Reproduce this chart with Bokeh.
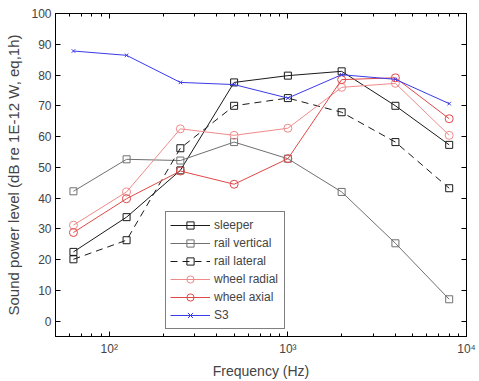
from bokeh.plotting import figure
from bokeh.models import LinearAxis, LogAxis, FixedTicker, LogTicker, Legend, LegendItem, CustomJSTickFormatter
from bokeh.embed import file_html
from bokeh.resources import INLINE

freq = [63, 125, 250, 500, 1000, 2000, 4000, 8000]
sleeper = [22.5, 33.8, 49.0, 77.6, 79.8, 81.2, 70.0, 57.3]
rail_vertical = [42.2, 52.6, 52.2, 58.2, 52.8, 42.0, 25.3, 7.1]
rail_lateral = [20.1, 26.3, 56.2, 70.0, 72.5, 67.9, 58.2, 43.2]
wheel_radial = [31.2, 42.0, 62.5, 60.4, 62.7, 76.0, 77.3, 60.4]
wheel_axial = [28.8, 39.8, 48.8, 44.5, 52.8, 78.5, 79.1, 65.8]
s3 = [87.8, 86.4, 77.6, 76.9, 72.5, 80.1, 78.6, 70.7]

y_ticks = [0, 10, 20, 30, 40, 50, 60, 70, 80, 90, 100]
x_tick_labels = {100: "10\u00b2", 1000: "10\u00b3", 10000: "10\u2074"}

FONT = "Liberation Sans"

p = figure(width=479, height=381, x_axis_type="log", x_range=(50, 10000),
           y_range=(-5, 100), output_backend="svg", toolbar_location=None,
           min_border_left=55, min_border_right=13, min_border_top=13,
           min_border_bottom=42)
p.grid.visible = False
p.outline_line_color = "black"
p.outline_line_width = 1
p.background_fill_color = "white"
p.border_fill_color = "white"

p.xaxis.axis_label = "Frequency (Hz)"
p.yaxis.axis_label = "Sound power level (dB re 1E-12 W, eq,1h)"
p.yaxis.ticker = FixedTicker(ticks=y_ticks)
p.xaxis.ticker = LogTicker(num_minor_ticks=10)
p.xaxis.major_label_overrides = x_tick_labels

for ax in [p.xaxis[0], p.yaxis[0]]:
    ax.axis_label_text_font = FONT
    ax.axis_label_text_font_style = "normal"
    ax.major_label_text_font = FONT
    ax.major_label_text_font_size = "12px"
    ax.major_tick_in = 5
    ax.major_tick_out = 0
    ax.minor_tick_in = 3
    ax.minor_tick_out = 0
    ax.axis_line_color = "black"
    ax.major_tick_line_color = "black"
    ax.minor_tick_line_color = "black"
p.xaxis.axis_label_text_font_size = "14px"
p.yaxis.axis_label_text_font_size = "15px"
p.yaxis.minor_tick_line_color = None
p.yaxis.major_label_standoff = 4
p.yaxis.axis_label_standoff = 6
p.xaxis.major_label_standoff = 5
p.xaxis.axis_label_standoff = 4

ra = LinearAxis(ticker=FixedTicker(ticks=y_ticks), formatter=CustomJSTickFormatter(code="return '';"),
                major_tick_in=5, major_tick_out=0, minor_tick_line_color=None,
                major_label_standoff=0)
p.add_layout(ra, "right")
ta = LogAxis(ticker=LogTicker(num_minor_ticks=10), formatter=CustomJSTickFormatter(code="return '';"),
             major_tick_in=5, major_tick_out=0, minor_tick_in=3, minor_tick_out=0,
             major_label_standoff=0)
p.add_layout(ta, "above")

series = [
    ("sleeper", sleeper, "#1a1a1a", "solid", "square", 7),
    ("rail vertical", rail_vertical, "#707070", "solid", "square", 7),
    ("rail lateral", rail_lateral, "#1a1a1a", "7 5", "square", 7),
    ("wheel radial", wheel_radial, "#f08a8a", "solid", "circle", 8),
    ("wheel axial", wheel_axial, "#e04848", "solid", "circle", 8),
    ("S3", s3, "#3a3ae8", "solid", "x", 5),
]

items = []
for name, vals, col, dash, marker, size in series:
    ln = p.line(freq, vals, line_color=col, line_width=1, line_dash=dash)
    sc = p.scatter(freq, vals, marker=marker, size=size, line_color=col,
                   fill_color=None, line_width=1)
    items.append(LegendItem(label=name, renderers=[ln, sc]))

legend = Legend(items=items, location=(110, 7))
legend.label_text_font = FONT
legend.label_text_font_size = "12px"
legend.glyph_width = 40
legend.glyph_height = 18
legend.label_height = 18
legend.label_width = 66
legend.spacing = 0
legend.padding = 4
legend.margin = 0
legend.label_standoff = 4
legend.border_line_color = "black"
legend.border_line_width = 1
legend.background_fill_color = "white"
legend.background_fill_alpha = 1
p.add_layout(legend, "center")

open("out.html", "w").write(file_html(p, INLINE))
